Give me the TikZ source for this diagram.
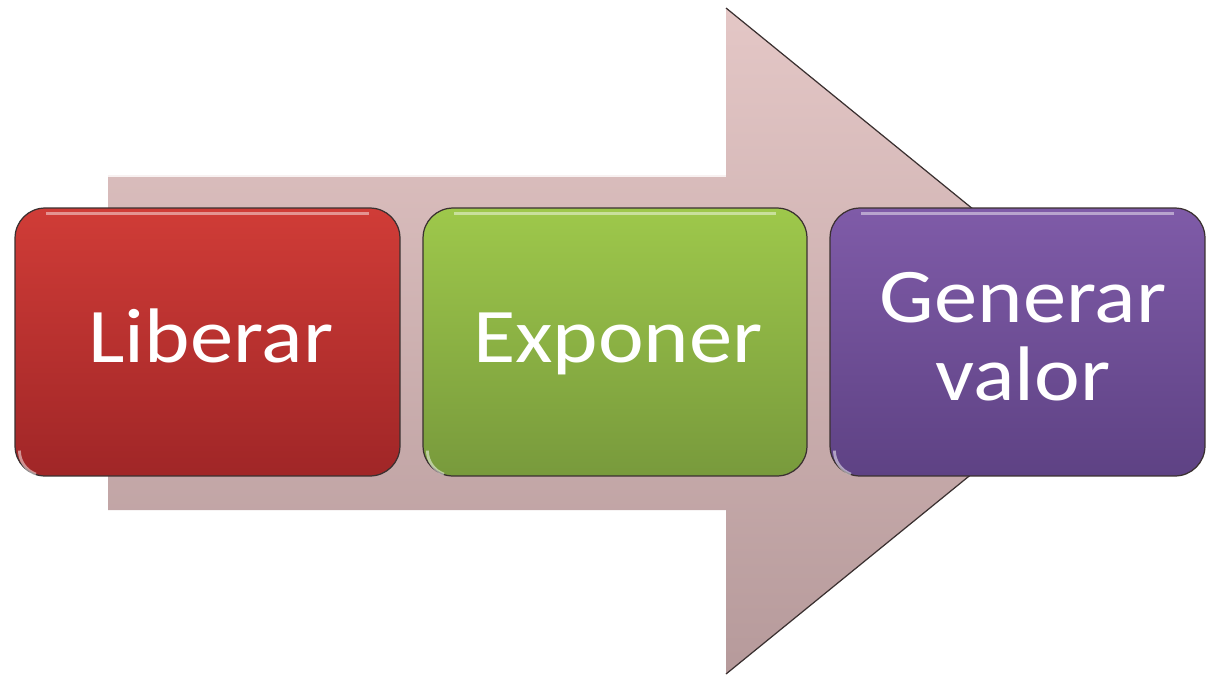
\documentclass[tikz,border=0pt]{standalone}
\usepackage{fontspec}
\setmainfont{Carlito}
\usetikzlibrary{calc}
\definecolor{arrowtop}{HTML}{E4C7C6}
\definecolor{arrowbot}{HTML}{B69A9B}
\definecolor{redtop}{HTML}{D03C37}
\definecolor{redbot}{HTML}{A02627}
\definecolor{greentop}{HTML}{9EC84B}
\definecolor{greenbot}{HTML}{789A3C}
\definecolor{purptop}{HTML}{7F5BA8}
\definecolor{purpbot}{HTML}{5E4284}
\definecolor{edgedark}{HTML}{3A3030}
\tikzset{
  stepbox/.style={draw=edgedark, line width=0.7pt, rounded corners=0.6cm,
    minimum height=5.36cm, inner sep=0pt},
  lbl/.style={text=white, font=\fontsize{44}{46}\selectfont, inner sep=0pt, anchor=base},
}
\newcommand{\wide}[1]{\scalebox{1.12}[1]{#1}}
\begin{document}
\begin{tikzpicture}[x=0.02cm,y=-0.02cm]
\useasboundingbox (0,0) rectangle (1206,674);
% big arrow
\path[top color=arrowtop, bottom color=arrowbot]
  (108,175) -- (726,175) -- (726,8) -- (1135,341) -- (726,674) -- (726,510) -- (108,510) -- cycle;
\draw[edgedark, line width=0.7pt] (726,8) -- (1135,341) -- (726,674);
\draw[white!75!arrowtop, line width=1.5pt] (108,176) -- (726,176);
% boxes
\node[stepbox, minimum width=7.7cm, top color=redtop, bottom color=redbot] (b1) at (207.5,342) {};
\node[stepbox, minimum width=7.68cm, top color=greentop, bottom color=greenbot] (b2) at (615,342) {};
\node[stepbox, minimum width=7.5cm, top color=purptop, bottom color=purpbot] (b3) at (1017.5,342) {};
% highlights
\foreach \b in {b1,b2,b3}{
  \draw[white, opacity=0.45, line width=1.6pt]
    ($(\b.north west)+(32,6)$) -- ($(\b.north east)+(-32,6)$);
  \draw[white, opacity=0.5, line width=1.6pt]
    ($(\b.south west)+(5,-26)$) arc[start angle=180, end angle=250, radius=0.5cm];
}
% labels
\node[lbl] (t1) at (211,362) {\wide{Liberar}};
\node[lbl] (t2) at (618,362) {\wide{Exponer}};
\node[lbl] (t3) at (1023,322) {\wide{Generar}};
\node[lbl] (t4) at (1023,400) {\wide{valor}};
\end{tikzpicture}
\end{document}
